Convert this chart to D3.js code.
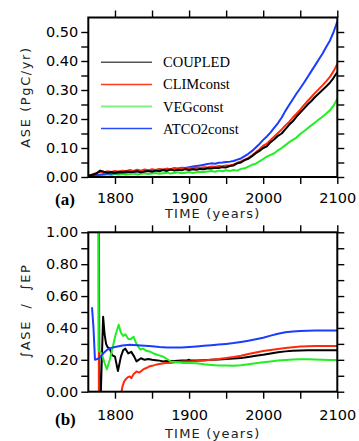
<!DOCTYPE html>
<html><head><meta charset="utf-8">
<script src="https://cdn.jsdelivr.net/npm/d3@7/dist/d3.min.js"></script>
<style>body{margin:0;background:#fff}svg{display:block}</style>
</head><body>
<svg id="chart" width="359" height="441"></svg>
<script>
// ---------- DATA ----------
const yearsA = [1765,1770,1775,1780,1785,1790,1795,1800,
  1805,1810,1815,1820,1825,1830,1835,1840,1845,1850,1855,1860,1865,1870,1875,1880,1885,1890,1895,1900,
  1905,1910,1915,1920,1925,1930,1935,1940,1945,1950,1955,1960,1965,1970,1975,1980,1985,1990,1995,2000,
  2005,2010,2015,2020,2025,2030,2035,2040,2045,2050,2055,2060,2065,2070,2075,2080,2085,2090,2095,2100];
const coupledA = [.005,.008,.012,.022,.018,.015,.017,.014,
  .018,.016,.019,.017,.018,.020,.016,.019,.021,.018,.022,.020,.024,.021,.026,.022,.025,.023,.027,.024,
  .027,.025,.028,.027,.030,.029,.032,.031,.034,.033,.038,.040,.047,.050,.058,.063,.072,.082,.090,.100,
  .106,.120,.130,.142,.150,.165,.180,.192,.208,.222,.236,.250,.262,.276,.288,.300,.312,.325,.342,.362];
const climConstA = [.004,.010,.014,.018,.016,.020,.017,.021,
  .018,.022,.020,.024,.021,.025,.022,.026,.023,.027,.024,.028,.025,.029,.026,.030,.027,.031,.028,.032,
  .030,.033,.031,.034,.033,.036,.035,.038,.037,.040,.040,.043,.049,.054,.060,.066,.075,.085,.096,.108,
  .115,.128,.140,.152,.164,.178,.190,.205,.218,.232,.248,.262,.276,.290,.303,.316,.330,.345,.365,.390];
const vegConstA = [.003,.005,.004,.008,.006,.009,.007,.010,
  .008,.011,.009,.010,.012,.009,.011,.013,.010,.012,.014,.011,.013,.015,.012,.014,.016,.013,.015,.017,
  .014,.016,.018,.017,.019,.021,.018,.022,.020,.023,.021,.024,.022,.028,.030,.036,.042,.046,.054,.062,
  .070,.076,.082,.092,.100,.110,.120,.128,.136,.148,.158,.168,.178,.188,.198,.208,.218,.230,.246,.270];
const atco2ConstA = [.002,.004,.006,.008,.010,.012,.011,.014,
  .013,.016,.015,.018,.017,.020,.019,.022,.021,.024,.023,.026,.025,.028,.027,.030,.029,.032,.031,.034,
  .036,.038,.040,.042,.045,.047,.046,.049,.050,.052,.053,.055,.060,.064,.072,.080,.090,.102,.114,.128,
  .140,.154,.170,.186,.205,.228,.248,.268,.288,.306,.325,.345,.365,.385,.405,.425,.448,.470,.500,.536];

const coupledYearsB = [1777,1779,1784,1786,1788,1790,1793,1796,1800,1804,1808,1811,1814,1818,1822,1826,1829,1832,1835,1840,1845,1850,1855,1860,1865,1870,1880,1890,1897,1900,1903,1910,1920,1930,1940,1950,1960,1970,1980,1990,2000,2010,2020,2030,2040,2050,2060,2070,2080,2090,2100];
const coupledB = [4.0,-0.3,.47,.36,.30,.28,.27,.23,.22,.13,.22,.26,.27,.24,.25,.22,.19,.20,.21,.20,.205,.20,.198,.195,.19,.193,.192,.195,.196,.200,.195,.196,.198,.200,.202,.205,.208,.212,.218,.225,.232,.240,.247,.253,.257,.259,.260,.260,.260,.260,.260];
const climConstYearsB = [1777,1779,1790,1808,1810,1812,1814,1817,1820,1822,1825,1829,1833,1838,1843,1847,1852,1856,1862,1868,1874,1882,1892,1900,1910,1920,1930,1940,1950,1960,1970,1980,1990,2000,2010,2020,2030,2040,2050,2060,2070,2080,2090,2100];
const climConstB = [5.0,-3.0,null,-0.02,.03,.06,.075,.09,.096,.085,.11,.127,.12,.14,.15,.16,.165,.17,.175,.18,.18,.185,.19,.19,.192,.196,.200,.205,.212,.218,.226,.236,.246,.255,.262,.268,.274,.279,.283,.285,.286,.286,.286,.286];
const vegConstYearsB = [1776,1778,1782,1786,1789,1793,1797,1801,1805,1808,1811,1814,1818,1821,1825,1829,1834,1838,1843,1848,1852,1858,1865,1870,1875,1885,1892,1900,1910,1920,1930,1940,1950,1960,1970,1980,1990,2000,2010,2020,2030,2040,2050,2060,2070,2080,2090,2100];
const vegConstB = [5.0,.26,.24,.18,.14,.20,.28,.36,.42,.37,.35,.36,.33,.33,.345,.30,.265,.27,.255,.25,.24,.23,.22,.205,.19,.185,.18,.18,.178,.172,.168,.165,.165,.163,.166,.172,.178,.185,.190,.195,.199,.202,.203,.203,.202,.200,.199,.199];
const atco2ConstYearsB = [1769,1771,1773,1776,1780,1785,1790,1795,1800,1810,1820,1830,1840,1850,1860,1870,1880,1890,1900,1910,1920,1930,1940,1950,1960,1970,1980,1990,2000,2010,2020,2030,2040,2050,2060,2070,2080,2090,2100];
const atco2ConstB = [.53,.40,.20,.205,.215,.245,.265,.275,.28,.29,.294,.292,.288,.285,.28,.278,.277,.278,.281,.284,.288,.292,.296,.300,.305,.312,.320,.329,.339,.352,.364,.373,.378,.381,.383,.384,.384,.384,.384];

const seriesNames = ["COUPLED","CLIMconst","VEGconst","ATCO2const"];
const seriesColors = ["#000000","#ff2a0a","#22ee22","#1a3cff"];
const legendColors = ["#555555","#ff3a20","#80f080","#2a4cff"];

const xMajorTicks = [1800,1900,2000,2100];
const xMinorTicks = [1850,1950,2050];
const yMajorTicksA = [0,0.1,0.2,0.3,0.4,0.5];
const yMinorTicksA = [0.05,0.15,0.25,0.35,0.45];
const yMajorTicksB = [0,0.2,0.4,0.6,0.8,1.0];
const yMinorTicksB = [0.1,0.3,0.5,0.7,0.9];

// ---------- DRAW ----------
const svg = d3.select("#chart");
const L = 88.3, R = 337.3;
const x = d3.scaleLinear().domain([1764,2100]).range([L,R]);
const panelA = {top:17.5, bottom:177, y:d3.scaleLinear().domain([0,0.55]).range([177,17.5]),
  majors:yMajorTicksA, minors:yMinorTicksA, xpad:9, id:"a"};
const panelB = {top:232.3, bottom:391.7, y:d3.scaleLinear().domain([0,1]).range([391.7,232.3]),
  majors:yMajorTicksB, minors:yMinorTicksB, xpad:11, id:"b"};

const font = "'DejaVu Sans', sans-serif";

function drawAxes(p){
  const xt = xMajorTicks.concat(xMinorTicks).sort((a,b)=>a-b);
  const yt = p.majors.concat(p.minors).sort((a,b)=>a-b);
  const style = g => {
    g.select(".domain").remove();
    g.selectAll(".tick line").attr("stroke","#000").attr("stroke-width",1.4);
    g.selectAll(".tick text").attr("font-family",font).attr("font-size","14.5px").attr("fill","#000");
  };
  svg.append("g").attr("transform",`translate(0,${p.bottom})`)
    .call(d3.axisBottom(x).tickValues(xt).tickSize(7).tickPadding(p.xpad)
      .tickFormat(d => xMajorTicks.includes(d) ? d3.format("d")(d) : ""))
    .call(style);
  svg.append("g").attr("transform",`translate(0,${p.top})`)
    .call(d3.axisTop(x).tickValues(xt).tickSize(7).tickFormat(""))
    .call(style);
  svg.append("g").attr("transform",`translate(${L},0)`)
    .call(d3.axisLeft(p.y).tickValues(yt).tickSize(7).tickPadding(3)
      .tickFormat(d => p.majors.some(m=>Math.abs(m-d)<1e-9) ? d3.format(".2f")(d) : ""))
    .call(style);
  svg.append("g").attr("transform",`translate(${R},0)`)
    .call(d3.axisRight(p.y).tickValues(yt).tickSize(7).tickFormat(""))
    .call(style);
  svg.append("rect").attr("x",L).attr("y",p.top).attr("width",R-L).attr("height",p.bottom-p.top)
    .attr("fill","none").attr("stroke","#000").attr("stroke-width",2);
}

function drawLines(p, series){
  svg.append("clipPath").attr("id","clip"+p.id).append("rect")
    .attr("x",L).attr("y",p.top).attr("width",R-L).attr("height",p.bottom-p.top);
  const g = svg.append("g").attr("clip-path",`url(#clip${p.id})`);
  const line = d3.line().defined(d => d[1] !== null).x(d => x(d[0])).y(d => p.y(d[1]));
  series.forEach(s => {
    g.append("path").datum(s.years.map((yr,i)=>[yr,s.values[i]]))
      .attr("fill","none").attr("stroke",s.color).attr("stroke-width",2)
      .attr("stroke-linejoin","round").attr("d",line);
  });
}

// Panel (a)
drawLines(panelA, [
  {years:yearsA, values:vegConstA, color:seriesColors[2]},
  {years:yearsA, values:atco2ConstA, color:seriesColors[3]},
  {years:yearsA, values:climConstA, color:seriesColors[1]},
  {years:yearsA, values:coupledA, color:seriesColors[0]},
]);
drawAxes(panelA);

// Panel (b)
drawLines(panelB, [
  {years:coupledYearsB, values:coupledB, color:seriesColors[0]},
  {years:climConstYearsB, values:climConstB, color:seriesColors[1]},
  {years:vegConstYearsB, values:vegConstB, color:seriesColors[2]},
  {years:atco2ConstYearsB, values:atco2ConstB, color:seriesColors[3]},
]);
drawAxes(panelB);

// Legend
const legend = svg.append("g");
seriesNames.forEach((n,i) => {
  const yy = 62.3 + i*22.1;
  legend.append("line").attr("x1",101).attr("x2",152).attr("y1",yy).attr("y2",yy)
    .attr("stroke",legendColors[i]).attr("stroke-width", i===2 ? 2 : 1.5);
  legend.append("text").attr("x",163).attr("y",yy+5).text(n)
    .attr("font-family","'Liberation Serif', serif").attr("font-size","14.5px").attr("fill","#000");
});

// Axis titles
function xTitle(yb){
  svg.append("text").attr("x",(L+R)/2).attr("y",yb).attr("text-anchor","middle")
    .attr("font-family",font).attr("font-size","13px").attr("letter-spacing","1.2px")
    .attr("fill","#222").text("TIME (years)");
}
xTitle(218);
xTitle(438);

function yTitle(cy, txt){
  svg.append("text").attr("transform",`translate(30,${cy}) rotate(-90)`)
    .attr("text-anchor","middle").attr("font-family",font).attr("font-size","13px")
    .attr("letter-spacing","1.6px").attr("fill","#222").style("white-space","pre").text(txt);
}
yTitle(97, "ASE (PgC/yr)");
yTitle(311, "\u222BASE  /  \u222BEP");

// Panel letters
svg.append("text").attr("x",55).attr("y",205).text("(a)")
  .attr("font-family","'Liberation Serif', serif").attr("font-weight","bold").attr("font-size","17px");
svg.append("text").attr("x",55).attr("y",425).text("(b)")
  .attr("font-family","'Liberation Serif', serif").attr("font-weight","bold").attr("font-size","17px");
</script>
</body></html>
